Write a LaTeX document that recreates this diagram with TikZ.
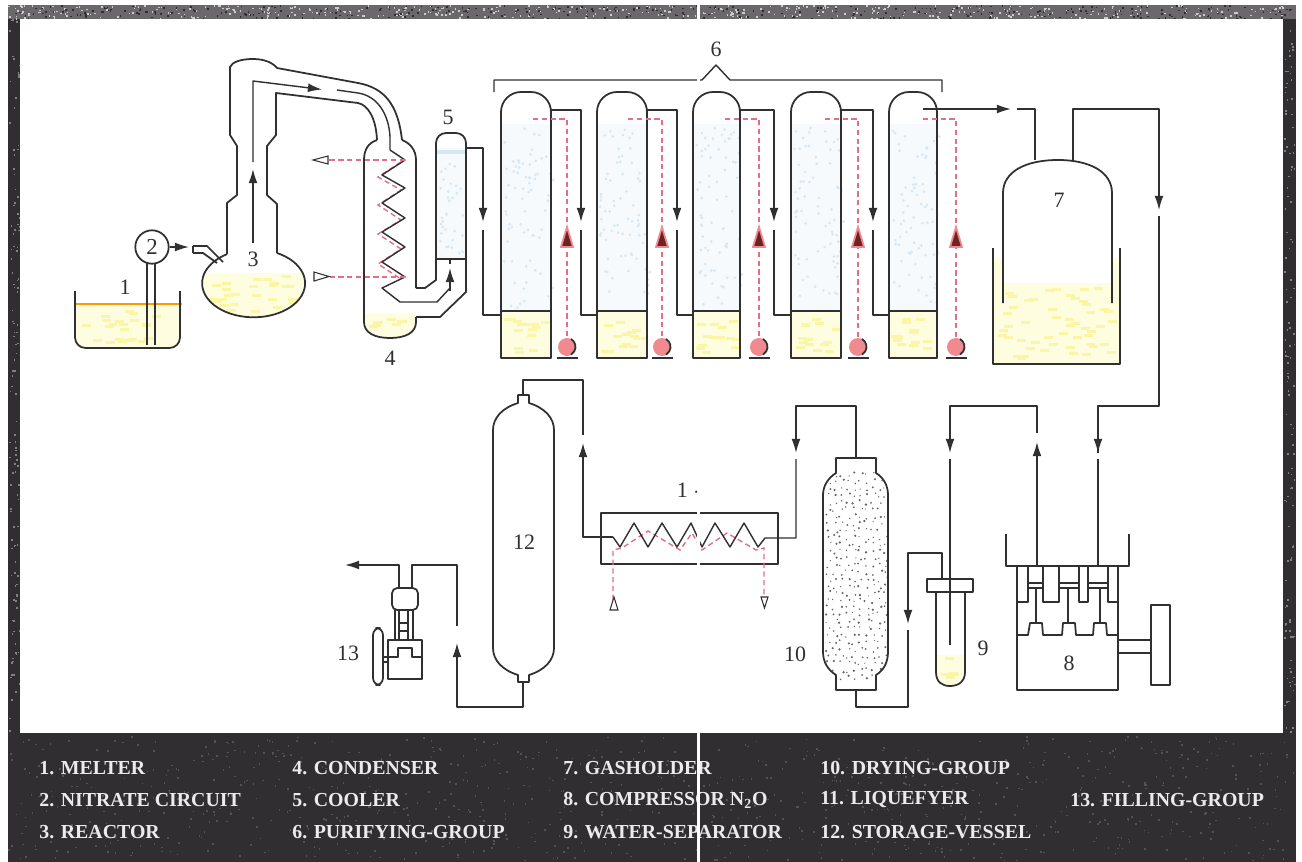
\documentclass[tikz,border=0pt]{standalone}
\usepackage{fontspec}
\setmainfont{Liberation Serif}
\usetikzlibrary{arrows.meta}
\definecolor{framegray}{HTML}{302E30}
\definecolor{stripgray}{HTML}{6A686A}
\definecolor{inkgray}{HTML}{303030}
\definecolor{liquidpale}{HTML}{FFFDE0}
\definecolor{liquidmark}{HTML}{FBF5A6}
\definecolor{gaspale}{HTML}{F7FAFD}
\definecolor{gasmark}{HTML}{D6E7F4}
\definecolor{coolred}{HTML}{E0708A}
\definecolor{pumppink}{HTML}{F08A90}

% random short marks inside a box: x0 y0 x1 y1 count colour
\newcommand{\liquidmarks}[5]{%
  \foreach \i in {1,...,#5}{
    \pgfmathsetmacro\px{#1+rnd*(#3-#1-9)}
    \pgfmathsetmacro\py{#2+rnd*(#4-#2-3)}
    \fill[liquidmark] (\px,\py) rectangle ++(9,3);
  }}
\newcommand{\gasmarks}[5]{%
  \foreach \i in {1,...,#5}{
    \pgfmathsetmacro\px{#1+rnd*(#3-#1)}
    \pgfmathsetmacro\py{#2+rnd*(#4-#2)}
    \fill[gasmark] (\px,\py) circle[radius=1.5];
  }}
\newcommand{\noisemarks}[6]{%
  \foreach \i in {1,...,#5}{
    \pgfmathsetmacro\px{#1+rnd*(#3-#1)}
    \pgfmathsetmacro\py{#2+rnd*(#4-#2)}
    \fill[#6] (\px,\py) rectangle ++(1.6,1.6);
  }}
\newcommand{\dryershape}{(836,458) -- (876,458) -- (876,473) .. controls (884,478) and (888,486) .. (888,495)
  -- (888,652) .. controls (888,662) and (884,670) .. (876,675) -- (876,690) -- (836,690) -- (836,675)
  .. controls (828,670) and (823,662) .. (823,652) -- (823,495) .. controls (823,486) and (828,478) .. (836,473) -- cycle}

\begin{document}
\begin{tikzpicture}[
  x=0.02cm, y=-0.02cm,
  vessel/.style={draw=inkgray, line width=1pt, line join=round},
  pipe/.style={draw=inkgray, line width=0.8pt, line join=round},
  flow/.style={pipe, -{Latex[length=8pt,width=5pt]}},
  coolant/.style={draw=coolred, line width=0.8pt, dash pattern=on 3pt off 2pt},
  hollow/.style={draw=inkgray, line width=0.6pt, fill=white},
  redtip/.style={draw=pumppink, line width=1pt, fill=inkgray!70!red},
  tag/.style={font=\fontsize{12.5}{14}\selectfont, inner sep=0pt, text=inkgray},
  legend/.style={anchor=west, inner sep=0pt, text=white!92!black,
                 font=\fontsize{11.3}{12}\selectfont\bfseries}
]
\pgfmathsetseed{11}
\useasboundingbox (0,0) rectangle (1302,862);

% frame and panel
\fill[white] (0,0) rectangle (1302,862);
\fill[framegray] (8,5) rectangle (1296,862);
\fill[stripgray] (8,5) rectangle (1296,19);
\noisemarks{8}{5}{1294}{18}{450}{white!60!gray}
\noisemarks{8}{5}{1294}{18}{350}{framegray}
\noisemarks{8}{736}{1294}{860}{900}{gray!45!framegray}
\noisemarks{9}{19}{19}{733}{120}{gray}
\noisemarks{1284}{19}{1294}{733}{120}{gray}
\fill[white] (20,19) rectangle (1283,733);

% 1 melter
\fill[liquidpale, rounded corners=6pt] (75,304) -- (75,348) -- (180,348) -- (180,304) -- cycle;
\liquidmarks{80}{308}{175}{344}{22}
\draw[draw=orange!80!yellow, line width=0.9pt] (75,304) -- (182,304);
\draw[vessel, rounded corners=6pt] (75,291) -- (75,348) -- (180,348) -- (180,291);
\node[tag] (melter) at (125,287) {1};

% 2 nitrate circuit
\node[circle, vessel, fill=white, minimum size=19pt, inner sep=0pt, font=\fontsize{13}{14}\selectfont, text=inkgray] (nitrate) at (152,247) {2};
\coordinate (arm) at (189,247);
\draw[pipe] (147,345) -- (147,263);
\draw[pipe] (155,345) -- (155,263);
\draw[flow] (nitrate) -- (arm);

% 3 reactor
\begin{scope}
  \clip (253.5,283) ellipse[x radius=51.5, y radius=34];
  \fill[liquidpale] (200,273) rectangle (310,320);
  \liquidmarks{205}{275}{302}{315}{26}
\end{scope}
\draw[vessel] (277,253) arc[start angle=297, end angle=599, x radius=51.5, y radius=34];
\draw[vessel] (193,246) -- (207,246) -- (223,262);
\draw[vessel] (193,253) -- (203,253) -- (217,263);
\draw[vessel] (193,246) -- (193,253);
\draw[vessel] (227,254) -- (227,203) -- (237,195) -- (237,146) -- (230,135) -- (230,67)
  .. controls (232,62) and (241,59) .. (253,59) .. controls (265,59) and (273,63) .. (277,68)
  -- (358,83) .. controls (385,88) and (398,105) .. (402,140);
\draw[vessel] (277,253) -- (277,204) -- (267,195) -- (267,146) -- (276,135) -- (276,93)
  -- (358,103) .. controls (368,105) and (376,118) .. (377,140);
\coordinate (reactorin) at (253,243);
\coordinate (reactorup) at (253,169);
\draw[flow] (reactorin) -- (reactorup);
\draw[flow] (253,162) -- (253,81) -- (322,89.5);
\draw[pipe] (337,90) -- (358,93) .. controls (378,96) and (389,115) .. (390,137) -- (390,150);
\node[tag] (reactor) at (253,259) {3};

% 4 condenser
\fill[liquidpale] (364,313) -- (364,322) .. controls (364,333) and (375,338) .. (390,338)
  .. controls (405,338) and (416,333) .. (416,322) -- (416,313) -- cycle;
\liquidmarks{368}{315}{412}{333}{8}
\draw[vessel] (377,140) .. controls (368,143) and (364,150) .. (364,160) -- (364,322)
  .. controls (364,333) and (375,338) .. (390,338) .. controls (405,338) and (416,333) .. (416,322) -- (416,317);
\draw[vessel] (402,140) .. controls (410,143) and (416,150) .. (416,160) -- (416,288);
\draw[coolant, shift={(-4,2)}] (405,160) -- (382,175) -- (405,188) -- (382,203) -- (405,218) -- (382,232) -- (405,247) -- (382,262) -- (405,277);
\draw[pipe] (390,150) -- (405,160) -- (382,175) -- (405,188) -- (382,203) -- (405,218) -- (382,232) -- (405,247) -- (382,262) -- (405,277) -- (382,288) -- (400,302) -- (437,302) -- (450,288) -- (450,286);
\coordinate (coolbase) at (450,259);
\draw[flow] (450,291) -- (450,268);
\draw[pipe] (450,264) -- (coolbase);
\draw[coolant] (405,160) -- (328,160);
\draw[coolant] (405,277) -- (330,277);
\draw[hollow] (328,156) -- (313,160) -- (328,164) -- cycle;
\draw[hollow] (314,272) -- (329,276.5) -- (314,281) -- cycle;
\node[tag] (condenser) at (390,358) {4};

% 5 cooler
\fill[gaspale] (436,148) rectangle (466,259);
\gasmarks{438}{158}{464}{257}{32}
\fill[gasmark] (437,150) rectangle (465,154);
\draw[vessel] (416,317) -- (440,317) -- (466,292) -- (466,143) arc[start angle=360, end angle=270, radius=10]
  -- (446,133) arc[start angle=270, end angle=180, radius=10] -- (436,280) -- (425,288) -- (416,288);
\draw[vessel] (436,259) -- (466,259);
\node[tag] (cooler) at (448,117) {5};
\coordinate (cooleroutlet) at (466,148);
\draw[flow] (cooleroutlet) -| (483,222);
\draw[pipe] (483,230) |- (501,315);

% 6 purifying group
\foreach \n/\xl/\xr/\xp/\xs/\xc/\xnext in {1/501/551/581/567/533/597, 2/597/647/677/662/628/693, 3/693/740/774/759/725/791, 4/791/841/873/858/825/889, 5/889/937/0/956/923/0}{
  \fill[gaspale] (\xl,124) rectangle (\xr,311);
  \gasmarks{\xl+3}{126}{\xr-3}{308}{70}
  \fill[liquidpale] (\xl,311) rectangle (\xr,358);
  \liquidmarks{\xl+2}{315}{\xr-2}{356}{14}
  \draw[vessel] (\xl,358) -- (\xl,112) arc[start angle=180, end angle=270, radius=20]
    -- (\xr-20,92) arc[start angle=270, end angle=360, radius=20] -- (\xr,358) -- cycle;
  \draw[vessel] (\xl,311) -- (\xr,311);
  \coordinate (col\n out) at (\xr,110);
  \ifnum\n<5
    \draw[flow] (col\n out) -| (\xp,222);
    \draw[pipe] (\xp,230) |- (\xnext,315);
  \fi
  % coolant loop and pump
  \draw[coolant] (\xc,119) -- (\xs,119) -- (\xs,338);
  \draw[redtip] (\xs-6,247) -- (\xs,227) -- (\xs+6,247) -- cycle;
  \fill[pumppink] (\xs,347) circle[radius=9];
  \draw[inkgray, line width=1pt] (\xs+4,339) arc[start angle=-60, end angle=60, radius=9];
  \draw[inkgray, line width=1.2pt] (\xs-10,358) -- (\xs+11,358);
}
\draw[pipe] (494,92) -- (494,80) -- (702,80) -- (716,65) -- (730,80) -- (942,80) -- (942,92);
\node[tag] (purifying) at (716,49) {6};

% 7 gasholder
\fill[liquidpale] (993,283) rectangle (1120,364);
\fill[liquidpale] (993,258) rectangle (1003,283);
\fill[liquidpale] (1112,258) rectangle (1120,283);
\liquidmarks{996}{285}{1117}{362}{50}
\draw[vessel] (993,248) -- (993,364) -- (1120,364) -- (1120,248);
\draw[vessel] (1003,303) -- (1003,193) .. controls (1003,172) and (1025,160) .. (1058,160)
  .. controls (1090,160) and (1112,172) .. (1112,193) -- (1112,303);
\node[tag] (gasholder) at (1059,200) {7};
\coordinate (holderin) at (1035,160);
\coordinate (holderout) at (1073,160);
\draw[flow] (923,109) -- (1011,109);
\draw[pipe] (1017,109) -| (holderin);
\draw[flow] (holderout) -- (1073,109) -| (1159,210);
\draw[pipe] (1159,216) -- (1159,406) -| (1098,453);

% 8 compressor
\draw[flow] (1098,406) -- (1098,453);
\coordinate (compin) at (1098,566);
\coordinate (compout) at (1037,566);
\draw[pipe] (1098,459) -- (compin);
\draw[flow] (compout) -- (1037,442);
\draw[flow] (1037,433) |- (950,406) -- (950,453);
\draw[vessel] (1006,534) -- (1006,566) -- (1129,566) -- (1129,534);
\draw[vessel] (1017,566) rectangle (1118,690);
\draw[vessel] (1017,602) -- (1028,602) -- (1028,566);
\draw[vessel] (1043,566) -- (1043,602) -- (1059,602) -- (1059,566);
\draw[vessel] (1079,566) -- (1079,602) -- (1088,602) -- (1088,566);
\draw[vessel] (1108,566) -- (1108,602) -- (1118,602);
\foreach \xa/\xb in {1028/1043, 1059/1079, 1088/1108}{
  \draw[pipe] (\xa,583) -- (\xb,583);
  \draw[pipe] (\xa,588) -- (\xb,588);
}
\foreach \xc in {1036,1068,1100}
  \draw[pipe] (\xc,588) -- (\xc,623);
\draw[vessel] (1017,635) -- (1028,635) -- (1030,623) -- (1042,623) -- (1043,635) -- (1062,635) -- (1063,623)
  -- (1075,623) -- (1076,635) -- (1093,635) -- (1094,623) -- (1106,623) -- (1107,635) -- (1118,635);
\draw[vessel] (1151,605) rectangle (1170,685);
\draw[vessel] (1118,640) -- (1151,640);
\draw[vessel] (1118,653) -- (1151,653);
\node[tag] (compressor) at (1069,663) {8};

% 9 water separator
\fill[liquidpale] (936,655) -- (936,672) .. controls (936,682) and (942,686) .. (950,686)
  .. controls (958,686) and (965,682) .. (965,672) -- (965,655) -- cycle;
\liquidmarks{938}{657}{963}{680}{5}
\draw[vessel] (936,592) -- (936,672) .. controls (936,682) and (942,686) .. (950,686)
  .. controls (958,686) and (965,682) .. (965,672) -- (965,592);
\draw[vessel] (927,579) rectangle (973,592);
\coordinate (sepin) at (950,645);
\draw[pipe] (950,459) -- (sepin);
\coordinate (sepout) at (942,579);
\draw[flow] (sepout) -- (942,553) -| (908,624);
\draw[pipe] (908,630) -- (908,707) -| (856,690);
\node[tag] (separator) at (983,648) {9};

% 10 drying group
\begin{scope}
  \clip \dryershape;
  \foreach \ix in {0,...,9}
    \foreach \iy in {0,...,29}{
      \pgfmathsetmacro\px{826+\ix*6.4+rnd*5}
      \pgfmathsetmacro\py{472+\iy*7+rnd*5}
      \pgfmathsetmacro\pr{0.6+rnd*0.7}
      \fill[inkgray!75] (\px,\py) circle[radius=\pr];
    }
\end{scope}
\draw[vessel] \dryershape;
\node[tag] (drying) at (795,654) {10};
\draw[flow] (856,458) -- (856,406) -| (796,453);

% 11 liquefyer
\draw[vessel] (601,513) rectangle (778,564);
\coordinate (liqin) at (765,538);
\coordinate (liqout) at (613,537);
\draw[coolant, shift={(0,3)}] (613,597) -- (613,547) -- (622,545) -- (648,528) -- (680,547) -- (692,530) -- (702,547) -- (727,530) -- (756,547) -- (764,545) -- (764,595);
\draw[pipe] (796,459) -- (796,538) -- (liqin) -- (758,547) -- (744,523) -- (730,547) -- (715,523) -- (702,547) -- (691,523) -- (677,547) -- (662,523) -- (648,547) -- (634,523) -- (620,547) -- (liqout);
\draw[flow] (liqout) -- (583,537) -- (583,443);
\draw[pipe] (583,435) -- (583,380) -- (523,380) -- (523,395);
\draw[hollow] (610,610) -- (614,597) -- (618,610) -- cycle;
\draw[hollow] (761,597) -- (768,597) -- (764.5,608) -- cycle;
\node[tag] (liquefyer) at (688,490) {1 $\cdot$};

% 12 storage vessel
\draw[vessel] (518,395) -- (529,395) -- (529,403) .. controls (545,408) and (554,418) .. (554,430) -- (554,648)
  .. controls (554,660) and (545,670) .. (529,675) -- (529,682) -- (518,682) -- (518,675)
  .. controls (502,670) and (493,660) .. (493,648) -- (493,430) .. controls (493,418) and (502,408) .. (518,403) -- cycle;
\node[tag] (storage) at (524,542) {12};
\draw[flow] (523,682) -- (523,707) -- (457,707) -- (457,643);
\draw[pipe] (457,626) -- (457,565) -- (412,565) -- (412,588);

% 13 filling group
\draw[vessel, rounded corners=3pt] (392,588) rectangle (418,610);
\foreach \xc in {395,399,408,413}
  \draw[pipe] (\xc,610) -- (\xc,640);
\draw[pipe] (399,623) -- (408,623);
\draw[pipe] (399,631) -- (408,631);
\draw[vessel] (388,640) rectangle (422,679);
\draw[pipe] (388,657) -- (398,657) -- (398,648) -- (412,648) -- (412,657) -- (422,657);
\draw[vessel, rounded corners=4pt] (373,628) rectangle (383,685);
\draw[pipe] (383,657) -- (388,657);
\draw[pipe] (383,662) -- (388,662);
\node[tag] (filling) at (348,653) {13};
\draw[flow] (399,588) -- (399,565) -- (345,565);

% legend
\node[legend] (l1) at (39,768) {1. MELTER};
\node[legend] (l2) at (39,800) {2. NITRATE CIRCUIT};
\node[legend] (l3) at (39,832) {3. REACTOR};
\node[legend] (l4) at (292,768) {4. CONDENSER};
\node[legend] (l5) at (292,800) {5. COOLER};
\node[legend] (l6) at (292,832) {6. PURIFYING-GROUP};
\node[legend] (l7) at (563,768) {7. GASHOLDER};
\node[legend] (l8) at (563,800) {8. COMPRESSOR N\textsubscript{2}O};
\node[legend] (l9) at (563,832) {9. WATER-SEPARATOR};
\node[legend] (l10) at (820,768) {10. DRYING-GROUP};
\node[legend] (l11) at (820,800) {11. LIQUEFYER};
\node[legend] (l12) at (820,832) {12. STORAGE-VESSEL};
\node[legend] (l13) at (1070,800) {13. FILLING-GROUP};

% scan seam
\draw[white, line width=1.7pt] (698.5,0) -- (698.5,19);
\draw[white, line width=1.7pt] (698.5,733) -- (698.5,862);
\draw[white, line width=1.7pt] (698.5,60) -- (698.5,92);
\draw[white, line width=1.7pt] (698.5,505) -- (698.5,570);
\end{tikzpicture}
\end{document}
